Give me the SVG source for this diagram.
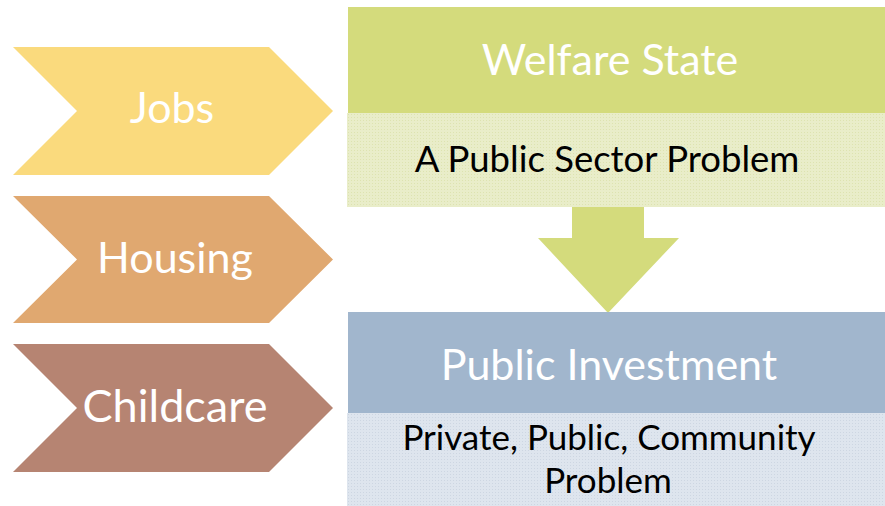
<svg xmlns="http://www.w3.org/2000/svg" width="885" height="506" viewBox="0 0 885 506">
<style>
.lbl{font-family:Lato,"Liberation Sans",sans-serif;text-anchor:middle}
.w{fill:#ffffff}
.b{fill:#000000}
</style>
<defs>
<pattern id="dg" width="3" height="3" patternUnits="userSpaceOnUse">
<rect width="3" height="3" fill="#E9EDC9"/>
<rect width="1" height="1" fill="#DDE3B0"/>
</pattern>
<pattern id="db" width="3" height="3" patternUnits="userSpaceOnUse">
<rect width="3" height="3" fill="#DEE5EE"/>
<rect width="1" height="1" fill="#CDD6E2"/>
</pattern>
</defs>
<rect width="885" height="506" fill="#ffffff"/>
<g id="jobs">
<polygon points="13,47 269,47 333,111 269,175 13,175 77,111" fill="#FADA7D"/>
<text class="lbl w" x="172" y="123" font-size="43">Jobs</text>
</g>
<g id="housing">
<polygon points="13,196 269,196 333,259.5 269,323 13,323 77,259.5" fill="#E0A870"/>
<text class="lbl w" x="175" y="273" font-size="43">Housing</text>
</g>
<g id="childcare">
<polygon points="13,344 269,344 333,408 269,472 13,472 77,408" fill="#B68472"/>
<text class="lbl w" x="175" y="422" font-size="45">Childcare</text>
</g>
<g id="welfare-state">
<rect x="348" y="7" width="537" height="106" fill="#D4DB7C"/>
<rect x="347" y="113" width="538" height="94" fill="url(#dg)"/>
<text class="lbl w" x="610" y="75" font-size="43">Welfare State</text>
<text class="lbl b" x="607" y="172" font-size="36.5">A Public Sector Problem</text>
</g>
<g id="connectors">
<polygon points="572,207 644,207 644,238 679,238 608,313 538,238 572,238" fill="#D4DB7C"/>
</g>
<g id="public-investment">
<rect x="348" y="312" width="537" height="101" fill="#A1B6CD"/>
<rect x="347" y="413" width="538" height="93" fill="url(#db)"/>
<text class="lbl w" x="609" y="380" font-size="43">Public Investment</text>
<text class="lbl b" x="609" y="450" font-size="35">Private, Public, Community</text>
<text class="lbl b" x="608" y="493" font-size="35">Problem</text>
</g>
</svg>
